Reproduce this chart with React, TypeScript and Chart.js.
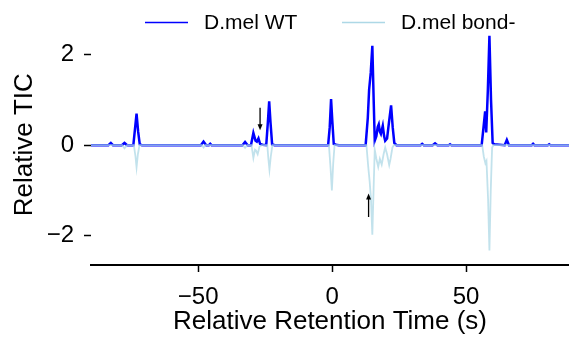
import React, { useEffect, useRef } from "react";
import { Chart, registerables } from "chart.js";

Chart.register(...registerables);

// ---------- data ----------
const seriesLabels = ["D.mel WT", "D.mel bond-"];

const wtX = [
  -90, -83.5, -82.6, -81.8, -78.5, -77.5, -76.5,
  -74.2, -73.6, -73.0, -72.4, -71.8, -71,
  -49, -48, -47, -46, -45.5, -45,
  -33.5, -32.5, -31.5, -30.3, -29.4, -28.6, -28.1, -27.5, -26.9, -26,
  -24.6, -24, -23.5, -23.0, -22.4, -21.5,
  -1.5, -0.9, -0.4, 0.1, 0.6, 1.5, 2.5,
  12.5, 13.3, 13.8, 14.4, 15.0, 15.5, 15.9, 16.5, 17.0, 17.4, 17.8, 18.2, 18.9, 19.4, 19.8, 20.5, 21.2, 22.0, 22.6, 23.2, 24,
  33, 33.6, 34.2, 37.5, 38.4, 39.3, 43.5, 44, 44.5,
  55.8, 56.5, 57.1, 57.5, 58.1, 58.7, 59.3, 59.9, 60.5, 64.4, 65.2, 66,
  74.5, 75, 75.5, 80.5, 81, 81.5, 88.4,
];
const wtY = [
  0, 0, 0.05, 0, 0, 0.05, 0,
  0, 0.35, 0.7, 0.3, 0.02, 0,
  0, 0.08, 0, 0, 0.03, 0,
  0, 0.07, 0, 0, 0.27, 0.1, 0.08, 0.15, 0.03, 0.01,
  0, 0.5, 0.97, 0.5, 0.02, 0,
  0, 0.4, 1.02, 0.5, 0.03, 0.01, 0,
  0, 0.6, 1.23, 1.6, 2.2, 1.0, 0.1, 0.2, 0.4, 0.46, 0.3, 0.25, 0.43, 0.2, 0.1, 0.15, 0.5, 0.88, 0.4, 0.05, 0,
  0, 0.03, 0, 0, 0.04, 0, 0, 0.02, 0,
  0, 0.4, 0.75, 0.28, 1.2, 2.42, 1.0, 0.05, 0.02, 0, 0.12, 0,
  0, 0.03, 0, 0, 0.02, 0, 0,
];

const bondX = [
  -90, -78.3, -77.5, -76.5,
  -74, -73.4, -73.0, -72.5, -71.9,
  -48.6, -48, -47.4,
  -33.3, -32.5, -31.7, -30.1, -29.4, -28.8, -28.4, -27.8, -27.1, -26.3,
  -24.2, -23.8, -23.4, -22.9, -22.3,
  -1.2, -0.6, -0.1, 0.4, 0.9,
  12.8, 13.5, 14.0, 14.5, 15.0, 15.5, 15.9, 16.5, 17.2, 17.8, 18.5, 19.2, 19.8, 20.5, 21.3, 21.8, 22.5, 23,
  56, 56.6, 57.2, 57.6, 58.2, 58.7, 59.2, 59.7, 60.2,
  88.4,
];
const bondY = [
  0, 0, -0.07, 0,
  0, -0.25, -0.49, -0.2, 0,
  0, -0.05, 0,
  0, -0.06, 0, 0, -0.28, -0.1, -0.12, -0.2, -0.03, 0,
  0, -0.3, -0.54, -0.25, 0,
  0, -0.5, -1.0, -0.4, 0,
  0, -0.5, -0.8, -1.2, -1.98, -0.9, -0.1, -0.3, -0.48, -0.3, -0.43, -0.2, -0.05, -0.2, -0.44, -0.3, -0.05, 0,
  0, -0.25, -0.4, -0.35, -1.2, -2.33, -1.0, -0.05, 0,
  0,
];

const xTicks = [-50, 0, 50];
const yTicks = [-2, 0, 2];

// arrows: [x, yStart, yEnd] (arrow head at yEnd)
const arrowX = [-26.9, 13.6];
const arrowYStart = [0.83, -1.59];
const arrowYEnd = [0.33, -1.07];

const FONT = "'Liberation Sans', Arial, Helvetica, sans-serif";
const WT_COLOR = "#0000ff";
const BOND_COLOR = "#add8e6";

const fmt = (v: number) => (v < 0 ? "\u2212" + Math.abs(v) : String(v));

const overlayPlugin = {
  id: "overlay",
  afterDatasetsDraw(chart: any) {
    const ctx = chart.ctx;
    const xs = chart.scales.x;
    const ys = chart.scales.y;
    ctx.save();
    // arrows
    ctx.strokeStyle = "#000";
    ctx.fillStyle = "#000";
    ctx.lineWidth = 1.3;
    for (let i = 0; i < arrowX.length; i++) {
      const px = xs.getPixelForValue(arrowX[i]);
      const y0 = ys.getPixelForValue(arrowYStart[i]);
      const y1 = ys.getPixelForValue(arrowYEnd[i]);
      const dir = y1 > y0 ? 1 : -1;
      ctx.beginPath();
      ctx.moveTo(px, y0);
      ctx.lineTo(px, y1 - dir * 4);
      ctx.stroke();
      ctx.beginPath();
      ctx.moveTo(px, y1);
      ctx.lineTo(px - 2.5, y1 - dir * 6);
      ctx.lineTo(px + 2.5, y1 - dir * 6);
      ctx.closePath();
      ctx.fill();
    }
    // legend
    const legendItems = [
      { label: seriesLabels[0], color: WT_COLOR, x0: 145, x1: 188, tx: 204 },
      { label: seriesLabels[1], color: BOND_COLOR, x0: 342, x1: 385, tx: 401 },
    ];
    ctx.font = `21px ${FONT}`;
    ctx.textBaseline = "middle";
    ctx.textAlign = "left";
    for (const it of legendItems) {
      ctx.strokeStyle = it.color;
      ctx.lineWidth = 1.5;
      ctx.beginPath();
      ctx.moveTo(it.x0, 22.5);
      ctx.lineTo(it.x1, 22.5);
      ctx.stroke();
      ctx.fillStyle = "#000";
      ctx.fillText(it.label, it.tx, 23);
    }
    ctx.restore();
  },
};

export default function App() {
  const ref = useRef<HTMLCanvasElement | null>(null);
  useEffect(() => {
    if (!ref.current) return;
    const wtData = wtX.map((x, i) => ({ x, y: wtY[i] }));
    const bondData = bondX.map((x, i) => ({ x, y: bondY[i] }));
    const chart = new Chart(ref.current, {
      type: "line",
      data: {
        datasets: [
          {
            label: seriesLabels[0],
            data: wtData,
            borderColor: WT_COLOR,
            borderWidth: 2.5,
            pointRadius: 0,
            tension: 0,
            order: 2,
          },
          {
            label: seriesLabels[1],
            data: bondData,
            borderColor: "rgba(173,216,230,0.75)",
            borderWidth: 1.8,
            pointRadius: 0,
            tension: 0,
            order: 1,
          },
        ],
      },
      options: {
        animation: false,
        responsive: false,
        devicePixelRatio: 1,
        layout: { padding: { top: 20, right: 0, left: 0, bottom: 0 } },
        plugins: { legend: { display: false }, tooltip: { enabled: false } },
        scales: {
          x: {
            type: "linear",
            min: -90,
            max: 88.4,
            afterFit: (s: any) => {
              s.height = 72;
            },
            afterBuildTicks: (s: any) => {
              s.ticks = xTicks.map((v) => ({ value: v }));
            },
            border: { display: true, color: "#000", width: 2 },
            grid: {
              drawOnChartArea: false,
              drawTicks: true,
              tickLength: 7,
              tickWidth: 1.5,
              tickColor: "#000",
            },
            ticks: {
              color: "#000",
              font: { family: FONT, size: 24 },
              padding: 11,
              maxRotation: 0,
              callback: (v: any) => fmt(Number(v)),
            },
            title: {
              display: true,
              text: "Relative Retention Time (s)",
              color: "#000",
              font: { family: FONT, size: 26 },
              padding: { top: 0, bottom: 0 },
            },
          },
          y: {
            type: "linear",
            min: -2.652,
            max: 2.674,
            afterFit: (s: any) => {
              s.width = 91;
            },
            afterBuildTicks: (s: any) => {
              s.ticks = yTicks.map((v) => ({ value: v }));
            },
            border: { display: false },
            grid: {
              drawOnChartArea: false,
              drawTicks: true,
              tickLength: 7,
              tickWidth: 1.5,
              tickColor: "#000",
            },
            ticks: {
              color: "#000",
              font: { family: FONT, size: 24 },
              padding: 10,
              callback: (v: any) => fmt(Number(v)),
            },
            title: {
              display: true,
              text: "Relative TIC",
              color: "#000",
              font: { family: FONT, size: 26 },
              padding: { top: 9, bottom: 0 },
            },
          },
        },
      },
      plugins: [overlayPlugin],
    });
    return () => chart.destroy();
  }, []);
  return (
    <div style={{ position: "fixed", left: 0, top: 0, width: 569, height: 337, background: "#fff" }}>
      <canvas ref={ref} width={569} height={337} />
    </div>
  );
}
